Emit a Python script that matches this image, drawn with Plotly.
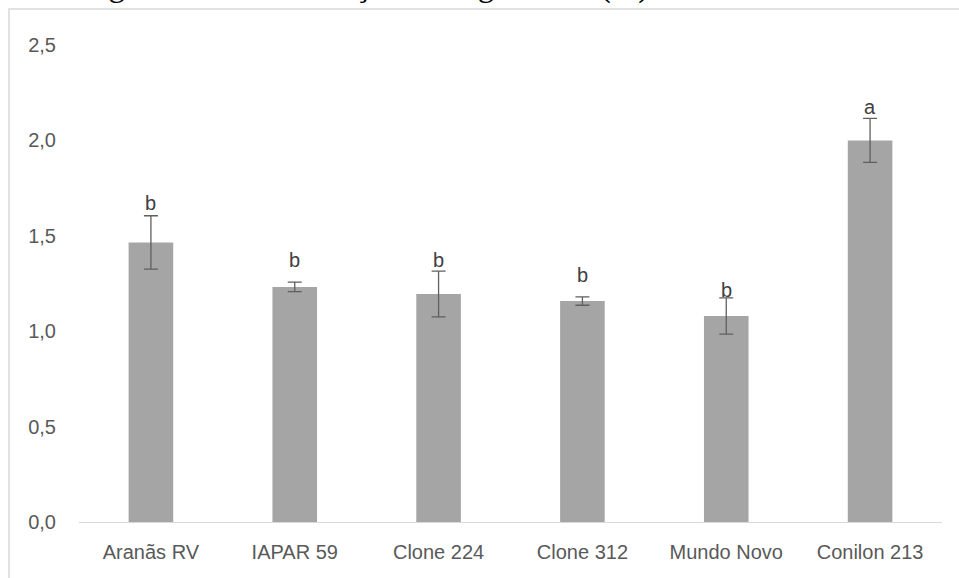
import plotly.graph_objects as go

categories = ["Aranãs RV", "IAPAR 59", "Clone 224", "Clone 312", "Mundo Novo", "Conilon 213"]
values = [1.465, 1.232, 1.195, 1.158, 1.08, 2.0]
errors = [0.14, 0.025, 0.12, 0.022, 0.095, 0.115]
letters = ["b", "b", "b", "b", "b", "a"]
letter_heights = [1.672, 1.373, 1.373, 1.295, 1.216, 2.175]
y_ticks = [0, 0.5, 1.0, 1.5, 2.0, 2.5]
y_tick_labels = ["0,0", "0,5", "1,0", "1,5", "2,0", "2,5"]
title_text = "Figura 4 - Concentração de trigonelina (%) em frutos de café."

W, H = 959, 578
ml, mr, mt, mb = 79, 17, 45, 56
pw, ph = W - ml - mr, H - mt - mb

fig = go.Figure()
fig.add_trace(go.Bar(
    x=categories, y=values,
    marker=dict(color="#A5A5A5", line=dict(width=0)),
    error_y=dict(type="data", array=errors, visible=True,
                 color="#5F5F5F", thickness=1.3, width=7),
    width=0.31,
    showlegend=False,
))

for c, l, h in zip(categories, letters, letter_heights):
    fig.add_annotation(x=c, y=h, text=l, showarrow=False, xref="x", yref="y",
                       yanchor="middle",
                       font=dict(family="Liberation Sans", size=20, color="#404040"))

# title, mostly cut off at the top of the picture
fig.add_annotation(x=(487 - ml) / pw, y=(H - mb - 6) / ph, xref="paper", yref="paper",
                   text=title_text, showarrow=False, yanchor="bottom", xanchor="center",
                   font=dict(family="Liberation Serif", size=33, color="#000000"))

# chart-area border
fig.add_shape(type="rect", xref="paper", yref="paper",
              x0=(9 - ml) / pw, x1=(W + 20 - ml) / pw,
              y0=(H - mb - (H + 20)) / ph, y1=(H - mb - 9) / ph,
              line=dict(color="#D9D9D9", width=1.5), fillcolor="rgba(0,0,0,0)", layer="below")

fig.update_layout(
    width=W, height=H,
    margin=dict(l=ml, r=mr, t=mt, b=mb),
    paper_bgcolor="white", plot_bgcolor="white",
    font=dict(family="Liberation Sans", size=20, color="#595959"),
    xaxis=dict(showline=True, linecolor="#D9D9D9", linewidth=1.3, showgrid=False,
               ticks="", ticklabelstandoff=12, tickfont=dict(size=20, color="#595959")),
    yaxis=dict(range=[0, 2.5], tickvals=y_ticks, ticktext=y_tick_labels,
               showgrid=False, showline=False, zeroline=False, ticks="",
               ticklabelstandoff=22, tickfont=dict(size=20, color="#595959")),
)

fig.write_html("out.html", config={"displayModeBar": False},
               post_script="document.body.style.margin='0';document.body.style.overflow='hidden';")
